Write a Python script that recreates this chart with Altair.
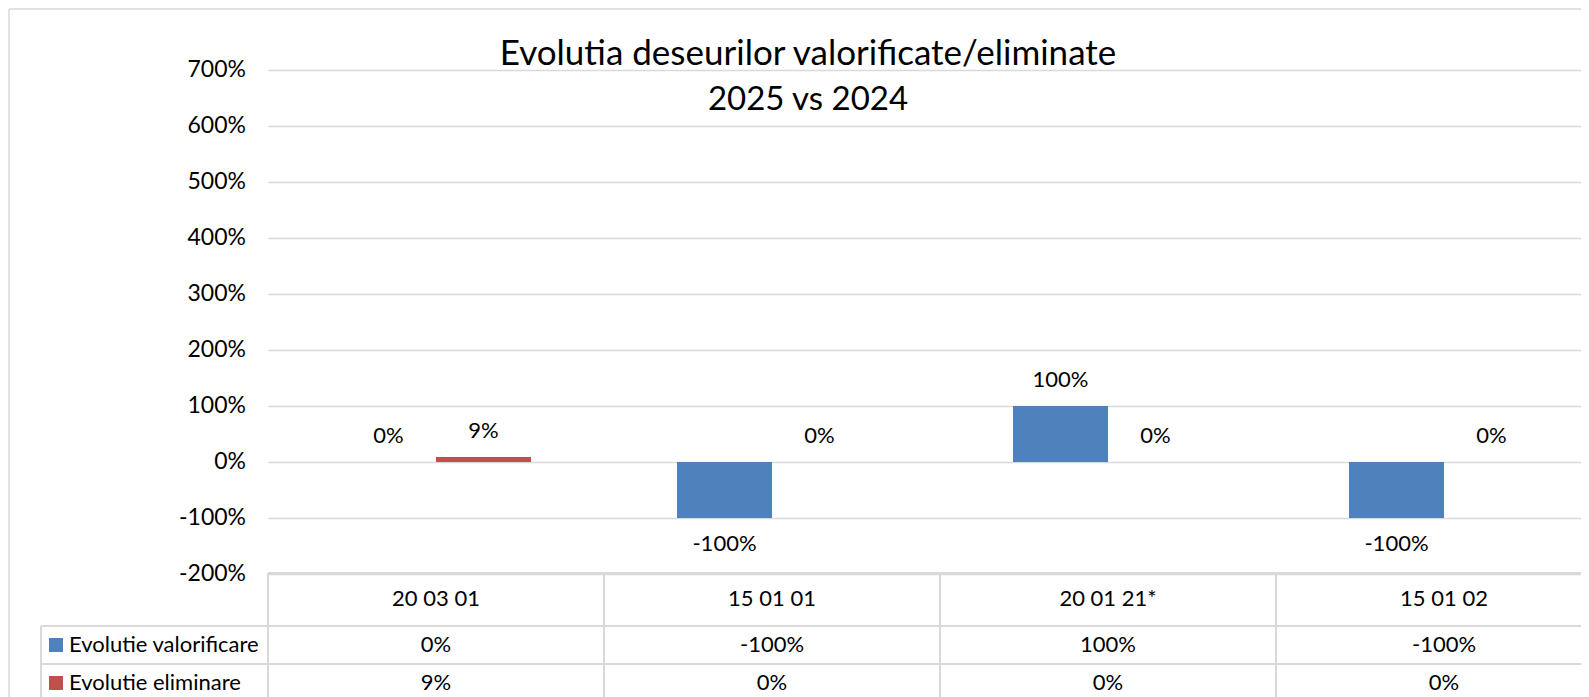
import altair as alt
import pandas as pd

categories = ["20 03 01", "15 01 01", "20 01 21*", "15 01 02"]
series_names = ["Evolutie valorificare", "Evolutie eliminare"]
valorificare = [0.0, -1.0, 1.0, -1.0]
eliminare = [0.09, 0.0, 0.0, 0.0]
y_ticks = [-2, -1, 0, 1, 2, 3, 4, 5, 6, 7]
title_lines = ["Evolutia deseurilor valorificate/eliminate", "2025 vs 2024"]
colors = ["#4F81BD", "#C0504D"]

rows = []
for c, v in zip(categories, valorificare):
    rows.append({"cat": c, "series": series_names[0], "value": v})
for c, v in zip(categories, eliminare):
    rows.append({"cat": c, "series": series_names[1], "value": v})
df = pd.DataFrame(rows)
df["label"] = df["value"].map(lambda v: f"{round(v * 100):.0f}%")

tick_df = pd.DataFrame({"value": y_ticks})
tick_df["label"] = tick_df["value"].map(lambda v: f"{round(v * 100)}%")

FONT = "Lato"
FS = 22
GRID = "#D9D9D9"
W, H = 1313, 504
STEP_RANGE = 1344

xenc = alt.X("cat:N", sort=categories,
             scale=alt.Scale(domain=categories, range=[0, STEP_RANGE],
                             paddingInner=0.4345, paddingOuter=0.21725),
             axis=None)
xoff = alt.XOffset("series:N", sort=series_names,
                   scale=alt.Scale(domain=series_names, paddingInner=0, paddingOuter=0))
yscale = alt.Scale(domain=[-2, 7], nice=False, zero=False)
yenc = alt.Y("value:Q", scale=yscale,
             axis=alt.Axis(values=y_ticks, grid=True, gridColor=GRID,
                           gridWidth=1.5, domain=False, ticks=False, labels=False,
                           title=None))
cenc = alt.Color("series:N", scale=alt.Scale(domain=series_names, range=colors), legend=None)

base = alt.Chart(df)

bars = base.mark_bar().encode(x=xenc, xOffset=xoff, y=yenc, color=cenc)

ylabels = alt.Chart(tick_df).mark_text(
    font=FONT, fontSize=23, color="#000000", align="right", baseline="middle"
).encode(x=alt.value(-22), y=alt.Y("value:Q", scale=yscale), text="label:N")

lab_pos = base.transform_filter("datum.value >= 0").mark_text(
    font=FONT, fontSize=FS, color="#000000", dy=-26, baseline="middle"
).encode(x=xenc, xOffset=xoff, y=alt.Y("value:Q"), text="label:N")
lab_neg = base.transform_filter("datum.value < 0").mark_text(
    font=FONT, fontSize=FS, color="#000000", dy=26, baseline="middle"
).encode(x=xenc, xOffset=xoff, y=alt.Y("value:Q"), text="label:N")

one = alt.Chart(pd.DataFrame({"d": [0]}))

def rule(x1, x2, y1, y2, w=1.5):
    return one.mark_rule(color=GRID, strokeWidth=w).encode(
        x=alt.value(x1), x2=alt.value(x2), y=alt.value(y1), y2=alt.value(y2))

lines = [
    rule(-259, 1313, -61, -61),          # outer top
    rule(-259, -259, -61, 640),          # outer left
    rule(0, 1313, 503, 503, 2),          # table top
    rule(-227, 1313, 556, 556, 2),       # header bottom
    rule(-227, 1313, 594, 594, 2),       # row1 bottom
    rule(-227, 1313, 632, 632, 2),       # row2 bottom
    rule(-227, -227, 556, 640, 2),
    rule(0, 0, 503, 640, 2),
    rule(336, 336, 503, 640, 2),
    rule(672, 672, 503, 640, 2),
    rule(1008, 1008, 503, 640, 2),
]

header = base.transform_filter(alt.datum.series == series_names[0]).mark_text(
    font=FONT, fontSize=FS, color="#000000", baseline="middle"
).encode(x=xenc, y=alt.value(529), text="cat:N")

row_y = [575, 613]
row_layers = []
for s, ry in zip(series_names, row_y):
    row_layers.append(base.transform_filter(alt.datum.series == s).mark_text(
        font=FONT, fontSize=FS, color="#000000", baseline="middle"
    ).encode(x=xenc, y=alt.value(ry), text="label:N"))
    sd = alt.Chart(pd.DataFrame({"series": [s]}))
    row_layers.append(sd.mark_square(size=196, opacity=1).encode(
        x=alt.value(-212), y=alt.value(ry), color=cenc))
    row_layers.append(sd.mark_text(font=FONT, fontSize=FS, color="#000000",
                                   align="left", baseline="middle").encode(
        x=alt.value(-199), y=alt.value(ry), text="series:N"))

tdf = pd.DataFrame({"t": title_lines, "i": [0, 1]})
title = alt.Chart(tdf).transform_filter("datum.i == 0").mark_text(
    font=FONT, fontSize=35, color="#000000", baseline="middle", align="center"
).encode(x=alt.value(540), y=alt.value(-16), text="t:N")
title2 = alt.Chart(tdf).transform_filter("datum.i == 1").mark_text(
    font=FONT, fontSize=33, color="#000000", baseline="middle", align="center"
).encode(x=alt.value(540), y=alt.value(30), text="t:N")

chart = alt.layer(
    *lines, bars, ylabels, lab_pos, lab_neg, header, *row_layers, title, title2
).properties(
    width=W, height=H,
    autosize=alt.AutoSizeParams(type="none"),
    padding={"left": 260, "top": 62, "right": 0, "bottom": 123},
    background="white",
).configure_view(stroke=None)

chart.save("out.html", embed_options={"renderer": "svg", "actions": False})
